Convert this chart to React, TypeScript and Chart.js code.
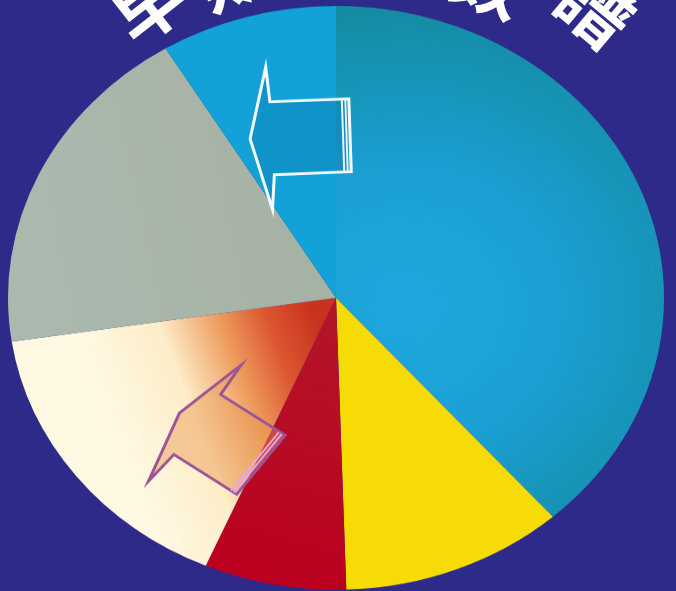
import React, { useEffect, useRef } from "react";
import { Chart, registerables } from "chart.js";

Chart.register(...registerables);

const segmentLabels = ["区分A", "区分B", "区分C", "区分D", "区分E", "区分F"];
const segmentValues = [38.5, 11.0, 7.0, 16.1, 18.7, 8.7];
const titleLeft = ["早", "期"];
const titleRight = ["数", "譜"];

const BG = "#2D2A8A";

function arrowPath(ctx: CanvasRenderingContext2D) {
  ctx.beginPath();
  ctx.moveTo(-50, 0);
  ctx.lineTo(-32, -80);
  ctx.lineTo(-29, -41);
  ctx.lineTo(50, -42);
  ctx.lineTo(50, 40);
  ctx.lineTo(-27, 41);
  ctx.lineTo(-30, 80);
  ctx.closePath();
}

const arrowPlugin = {
  id: "arrows",
  afterDatasetsDraw(chart: any) {
    const ctx: CanvasRenderingContext2D = chart.ctx;
    const meta = chart.getDatasetMeta(0);
    const draw = (
      idx: number,
      frac: number,
      rfrac: number,
      rot: number,
      stroke: string,
      fill: string,
      tail: string
    ) => {
      const arc = meta.data[idx];
      if (!arc) return;
      const p = arc.getProps(["x", "y", "startAngle", "endAngle", "outerRadius"], true);
      const a = p.startAngle + (p.endAngle - p.startAngle) * frac;
      const R = p.outerRadius;
      const s = R / 328;
      const x = p.x + Math.cos(a) * R * rfrac;
      const y = p.y + Math.sin(a) * R * rfrac;
      ctx.save();
      ctx.translate(x, y);
      ctx.rotate(rot);
      ctx.scale(s, s);
      arrowPath(ctx);
      ctx.fillStyle = fill;
      ctx.fill();
      ctx.lineWidth = 3;
      ctx.strokeStyle = stroke;
      ctx.lineJoin = "miter";
      ctx.stroke();
      ctx.beginPath();
      ctx.moveTo(43, -41);
      ctx.lineTo(43, 40);
      ctx.moveTo(46.5, -41);
      ctx.lineTo(46.5, 40);
      ctx.lineWidth = 2;
      ctx.strokeStyle = tail;
      ctx.stroke();
      ctx.restore();
    };
    draw(5, 0.64, 0.56, -0.03, "#F4FAFF", "rgba(10,95,150,0.22)", "#E6F4FF");
    draw(3, 0.22, 0.6, 0.63, "#9B5596", "rgba(232,150,80,0.45)", "#E8A6E6");
  },
};

export default function App() {
  const ref = useRef<HTMLCanvasElement | null>(null);

  useEffect(() => {
    const canvas = ref.current;
    if (!canvas) return;
    const ctx = canvas.getContext("2d")!;
    const cx = 338;
    const cy = 338;

    const blue = ctx.createRadialGradient(cx + 70, cy + 10, 10, cx + 70, cy + 10, 330);
    blue.addColorStop(0, "#1DA7DC");
    blue.addColorStop(0.45, "#1BA0D4");
    blue.addColorStop(0.8, "#1794B6");
    blue.addColorStop(1, "#158CA4");

    const cream = ctx.createLinearGradient(110, 470, 330, 395);
    cream.addColorStop(0, "#FFF9E4");
    cream.addColorStop(0.35, "#FDEDC8");
    cream.addColorStop(0.6, "#EE9C5E");
    cream.addColorStop(0.8, "#DC5630");
    cream.addColorStop(1, "#C8321E");

    const gray = ctx.createLinearGradient(40, 250, 300, 200);
    gray.addColorStop(0, "#ABB8AE");
    gray.addColorStop(1, "#A6B2A4");

    const red = ctx.createLinearGradient(250, 650, 340, 380);
    red.addColorStop(0, "#BC0020");
    red.addColorStop(1, "#B41428");

    const colors = [blue, "#F6DB06", red, cream, gray, "#13A2D8"];

    const chart = new Chart(canvas, {
      type: "pie",
      data: {
        labels: segmentLabels,
        datasets: [
          {
            data: segmentValues,
            backgroundColor: colors as any,
            borderWidth: 0,
          },
        ],
      },
      options: {
        responsive: false,
        animation: false,
        layout: { padding: 10 },
        plugins: {
          legend: { display: false },
          tooltip: { enabled: false },
        },
      },
      plugins: [arrowPlugin],
    });
    return () => chart.destroy();
  }, []);

  const charStyle = (x: number, y: number, rot: number): React.CSSProperties => ({
    position: "absolute",
    left: x - 45,
    top: y - 45,
    width: 90,
    height: 90,
    lineHeight: "90px",
    textAlign: "center",
    fontSize: 72,
    fontWeight: 700,
    color: "#FFFFFF",
    fontFamily: "'Noto Sans CJK SC', 'Noto Sans CJK JP', sans-serif",
    transform: `rotate(${rot}deg)`,
  });

  return (
    <div
      style={{
        position: "fixed",
        left: 0,
        top: 0,
        width: 676,
        height: 591,
        overflow: "hidden",
        background: BG,
      }}
    >
      <div
        style={{
          position: "absolute",
          left: -2,
          top: -3,
          width: 676,
          height: 676,
          transform: "scaleY(0.89)",
          transformOrigin: "top left",
        }}
      >
        <canvas ref={ref} width={676} height={676} style={{ width: 676, height: 676 }} />
      </div>
      <span style={charStyle(146, 2, -38)}>{titleLeft[0]}</span>
      <span style={charStyle(232, -30, -22)}>{titleLeft[1]}</span>
      <span style={charStyle(490, -22, 22)}>{titleRight[0]}</span>
      <span style={charStyle(598, 6, 40)}>{titleRight[1]}</span>
    </div>
  );
}
